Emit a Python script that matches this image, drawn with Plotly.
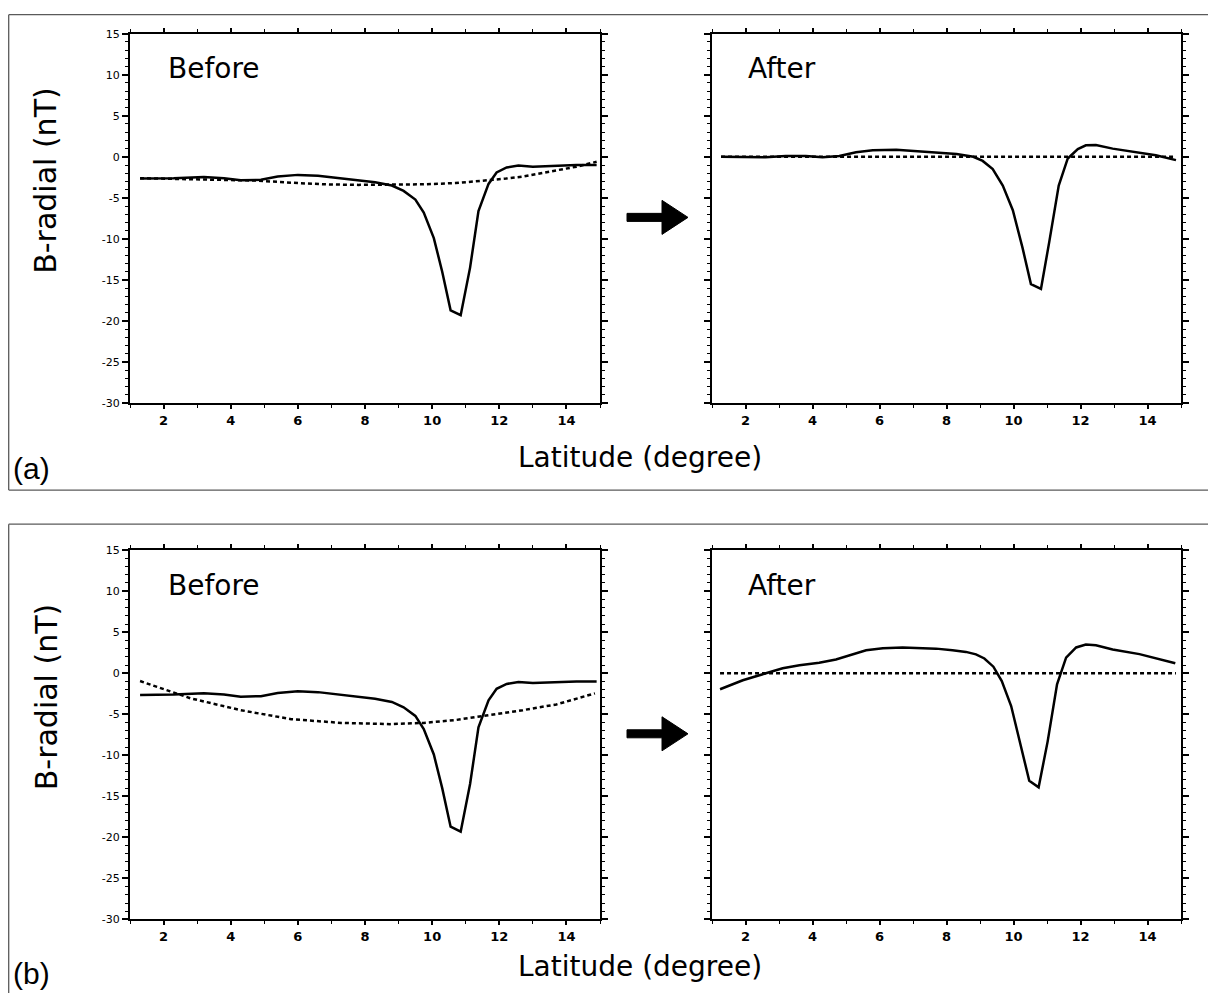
import plotly.graph_objects as go

PAGE_W, PAGE_H = 1216, 1001
OX, OY = 8, 8                      # body margin of the page
W, H = PAGE_W - 2 * OX, PAGE_H - 2 * OY
SY, CY = 0.986, 5.4                # measured vertical mapping of the screenshot

# ---------------- data ----------------
lat_before = [1.3, 2.3, 3.2, 3.8, 4.3, 4.9, 5.4, 6.0, 6.6, 7.3, 7.8, 8.3, 8.8, 9.15, 9.5,
              9.75, 10.05, 10.3, 10.55, 10.85, 11.13, 11.38, 11.68, 11.92, 12.22, 12.57,
              13.0, 13.7, 14.3, 14.9]
b_before = [-2.65, -2.6, -2.45, -2.6, -2.85, -2.8, -2.4, -2.2, -2.3, -2.6, -2.8, -3.1, -3.5,
            -4.15, -5.2, -6.8, -9.9, -14.0, -18.7, -19.3, -13.5, -6.6, -3.3, -1.9, -1.3,
            -1.06, -1.2, -1.06, -1.0, -1.0]

lat_fit_a = [1.3, 2.0, 3.0, 4.0, 4.8, 6.0, 6.8, 7.8, 8.75, 9.7, 10.7, 11.7, 12.2, 12.7,
             13.2, 13.7, 14.3, 14.9]
b_fit_a = [-2.6, -2.65, -2.75, -2.85, -2.9, -3.2, -3.35, -3.42, -3.4, -3.35, -3.2, -2.85,
           -2.65, -2.4, -2.05, -1.7, -1.2, -0.6]

lat_after_a = [1.27, 2.6, 3.2, 3.8, 4.3, 4.8, 5.3, 5.8, 6.5, 7.1, 7.7, 8.3, 8.8, 9.08, 9.38,
               9.68, 9.98, 10.27, 10.52, 10.82, 11.07, 11.35, 11.62, 11.92, 12.16, 12.46,
               12.96, 13.66, 14.25, 14.85]
b_after_a = [0, -0.05, 0.1, 0.1, -0.05, 0.1, 0.55, 0.8, 0.85, 0.7, 0.55, 0.35, 0, -0.5, -1.5,
             -3.5, -6.5, -11.1, -15.5, -16.1, -10.3, -3.5, -0.2, 0.95, 1.4, 1.43, 1.0, 0.6,
             0.2, -0.4]

lat_fit_b = [1.3, 2.8, 4.3, 5.8, 7.3, 8.75, 9.75, 10.7, 11.7, 12.7, 13.7, 14.85]
b_fit_b = [-0.95, -3.05, -4.5, -5.6, -6.05, -6.2, -6.05, -5.7, -5.1, -4.5, -3.8, -2.45]

lat_after_b = [1.24, 1.92, 2.61, 3.11, 3.61, 4.2, 4.7, 5.2, 5.6, 6.1, 6.69, 7.29, 7.69, 8.18,
               8.58, 8.88, 9.13, 9.4, 9.65, 9.93, 10.22, 10.47, 10.75, 11.02, 11.3, 11.57,
               11.87, 12.16, 12.46, 12.96, 13.76, 14.83]
b_after_b = [-1.95, -0.85, 0, 0.6, 0.98, 1.27, 1.67, 2.33, 2.8, 3.06, 3.14, 3.06, 3.0, 2.8,
             2.6, 2.3, 1.8, 0.8, -0.95, -4.0, -8.7, -13.1, -13.9, -8.3, -1.35, 1.9, 3.14,
             3.5, 3.4, 2.9, 2.33, 1.22]

lat_zero_a = [1.27, 14.85]
lat_zero_b = [1.24, 14.85]
zero_line = [0, 0]

x_ticks = [2, 4, 6, 8, 10, 12, 14]
x_ticktext = ["2", "4", "6", "8", "10", "12", "14"]
x_minor = [1, 3, 5, 7, 9, 11, 13, 15]
y_ticks = [-30, -25, -20, -15, -10, -5, 0, 5, 10, 15]
y_ticktext = ["-30", "-25", "-20", "-15", "-10", "-5", "0", "5", "10", "15"]
y_minor = [v for v in range(-30, 16) if v % 5 != 0]

panel_titles = ["Before", "After"]
panel_labels = ["(a)", "(b)"]
x_title = "Latitude (degree)"
y_title = "B-radial (nT)"

# ---------------- helpers: target picture pixel -> paper fraction ----------------
def px(x):
    return (x - OX) / W

def py(y):
    yc = (y - CY) / SY
    return 1 - (yc - OY) / H

def py_clamped(y):
    return min(max(py(y), -0.1), 1 - 0.7 / H)

FONT = "DejaVu Sans"
solid = dict(color="black", width=2.5)
dotted = dict(color="black", width=2.5, dash="4px,3px")

fig = go.Figure()

series = [
    ("x", "y", lat_before, b_before, lat_fit_a, b_fit_a),
    ("x2", "y2", lat_after_a, b_after_a, lat_zero_a, zero_line),
    ("x3", "y3", lat_before, b_before, lat_fit_b, b_fit_b),
    ("x4", "y4", lat_after_b, b_after_b, lat_zero_b, zero_line),
]
for xa, ya, xs, ys, xd, yd in series:
    fig.add_trace(go.Scatter(x=xd, y=yd, mode="lines", line=dotted, xaxis=xa, yaxis=ya,
                             showlegend=False, hoverinfo="skip"))
    fig.add_trace(go.Scatter(x=xs, y=ys, mode="lines", line=solid, xaxis=xa, yaxis=ya,
                             showlegend=False))

xdom_left = [px(130), px(600)]
xdom_right = [px(712), px(1181)]
ydom_a = [py(402), py(33)]
ydom_b = [py(918), py(549)]

def xaxis_cfg(domain, anchor):
    return dict(domain=domain, anchor=anchor, range=[1, 15], tickmode="array",
                tickvals=x_ticks, ticktext=x_ticktext, ticks="outside", ticklen=4,
                tickwidth=1.5, tickcolor="black", showline=True, linewidth=2,
                linecolor="black", mirror="ticks", showgrid=False, zeroline=False,
                tickfont=dict(family=FONT, size=13, color="black", weight="bold"),
                minor=dict(tickvals=x_minor, ticks="outside", ticklen=3, tickwidth=1.2,
                           tickcolor="black", showgrid=False))

def yaxis_cfg(domain, anchor, labels):
    return dict(domain=domain, anchor=anchor, range=[-30, 15], tickmode="array",
                tickvals=y_ticks, ticktext=y_ticktext, ticks="outside", ticklen=6,
                tickwidth=1.5, tickcolor="black", showline=True, linewidth=2,
                linecolor="black", mirror="ticks", showgrid=False, zeroline=False,
                showticklabels=labels,
                tickfont=dict(family=FONT, size=11, color="black"),
                minor=dict(tickvals=y_minor, ticks="outside", ticklen=3, tickwidth=1.2,
                           tickcolor="black", showgrid=False))

fig.update_layout(
    width=W, height=H, margin=dict(l=0, r=0, t=0, b=0),
    paper_bgcolor="white", plot_bgcolor="white", showlegend=False,
    xaxis=xaxis_cfg(xdom_left, "y"), yaxis=yaxis_cfg(ydom_a, "x", True),
    xaxis2=xaxis_cfg(xdom_right, "y2"), yaxis2=yaxis_cfg(ydom_a, "x2", False),
    xaxis3=xaxis_cfg(xdom_left, "y3"), yaxis3=yaxis_cfg(ydom_b, "x3", True),
    xaxis4=xaxis_cfg(xdom_right, "y4"), yaxis4=yaxis_cfg(ydom_b, "x4", False),
)

# per-panel text rows: (offset of the panel, y of x-title, y of panel label)
rows = [(0, 456, 467), (516, 965, 972)]

shapes = []
annotations = []
for i, (off, y_xt, y_lab) in enumerate(rows):
    border = dict(type="line", xref="paper", yref="paper", line=dict(color="#5a5a5a", width=1.3))
    top = py_clamped(7 + off)
    bottom = py_clamped(489 + off)
    shapes.append(dict(border, x0=px(8.7), x1=px(8.7), y0=top, y1=bottom))
    shapes.append(dict(border, x0=px(8.7), x1=px(PAGE_W + 20), y0=top, y1=top))
    if 489 + off < PAGE_H:
        shapes.append(dict(border, x0=px(8.7), x1=px(PAGE_W + 20), y0=bottom, y1=bottom))
    # arrow
    cy = 216.5 + off
    path = (f"M {px(627)},{py(cy - 4)} L {px(662)},{py(cy - 4)} L {px(662)},{py(cy - 17)} "
            f"L {px(688)},{py(cy)} L {px(662)},{py(cy + 17)} L {px(662)},{py(cy + 4)} "
            f"L {px(627)},{py(cy + 4)} Z")
    shapes.append(dict(type="path", xref="paper", yref="paper", path=path,
                       fillcolor="black", line=dict(color="black", width=1)))
    # texts
    annotations.append(dict(text=panel_titles[0], x=px(166), y=py(68 + off), xref="paper",
                            yref="paper", xanchor="left", yanchor="middle", showarrow=False,
                            font=dict(family=FONT, size=28, color="black")))
    annotations.append(dict(text=panel_titles[1], x=px(746), y=py(68 + off), xref="paper",
                            yref="paper", xanchor="left", yanchor="middle", showarrow=False,
                            font=dict(family=FONT, size=28, color="black")))
    annotations.append(dict(text=panel_labels[i], x=px(11), y=py(y_lab), xref="paper",
                            yref="paper", xanchor="left", yanchor="middle", showarrow=False,
                            font=dict(family="Liberation Sans", size=30, color="black")))
    annotations.append(dict(text=x_title, x=px(640), y=py(y_xt), xref="paper",
                            yref="paper", xanchor="center", yanchor="middle", showarrow=False,
                            font=dict(family=FONT, size=28, color="black")))
    annotations.append(dict(text=y_title, x=px(46), y=py(180 + off), xref="paper",
                            yref="paper", xanchor="center", yanchor="middle", showarrow=False,
                            textangle=-90,
                            font=dict(family=FONT, size=30, color="black")))

fig.update_layout(shapes=shapes, annotations=annotations)
fig.write_html("out.html")
